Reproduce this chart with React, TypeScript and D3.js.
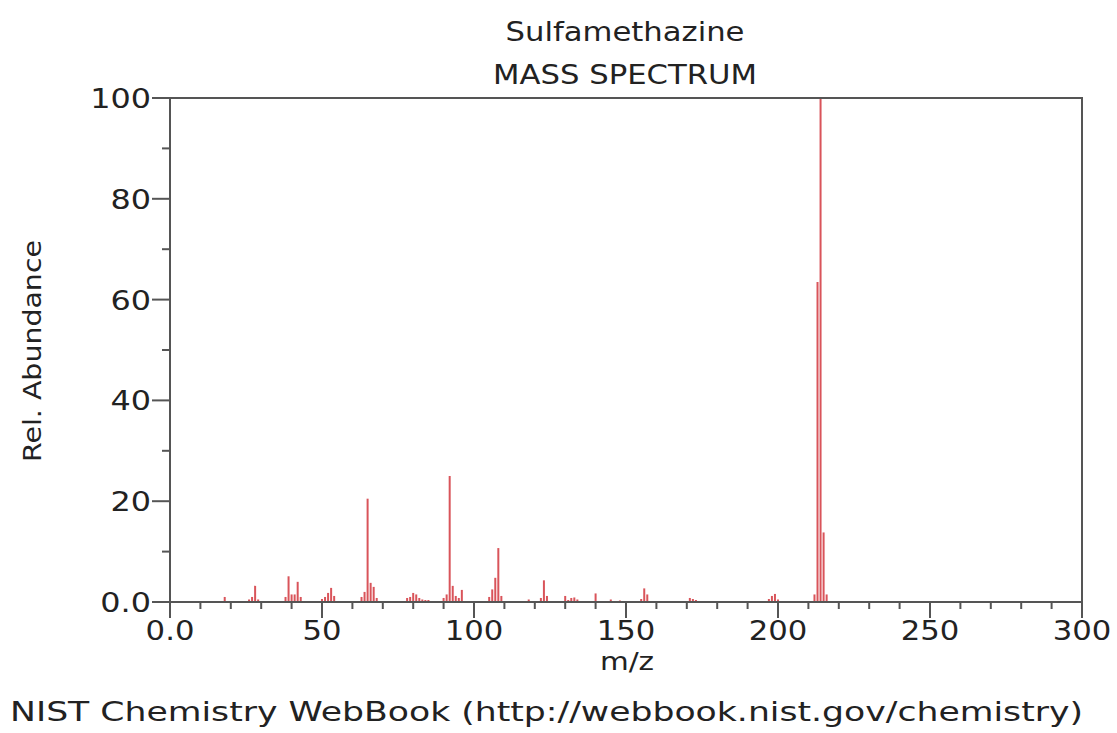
import { scaleLinear, range } from "d3";

// m/z and relative abundance
const mz = [
	18, 26, 27, 28, 29, 38, 39, 40, 41, 42, 43, 50, 51, 52, 53, 54, 63, 64, 65, 66, 67, 68,
	78, 79, 80, 81, 82, 83, 84, 85, 90, 91, 92, 93, 94, 95, 96, 105, 106, 107, 108, 109,
	118, 122, 123, 124, 130, 131, 132, 133, 134, 140, 145, 148, 155, 156, 157, 171, 172,
	173, 197, 198, 199, 200, 212, 213, 214, 215, 216,
];
const abundance = [
	1.0, 0.5, 1.0, 3.2, 0.5, 1.0, 5.1, 1.5, 1.5, 4.0, 1.0, 0.6, 1.0, 1.8, 2.8, 1.2, 1.0, 2.0,
	20.5, 3.8, 3.0, 0.8, 0.8, 1.0, 1.8, 1.5, 0.8, 0.5, 0.4, 0.4, 0.8, 1.5, 25.0, 3.2, 1.2,
	0.8, 2.4, 1.0, 2.5, 4.8, 10.7, 1.2, 0.5, 0.8, 4.3, 1.2, 1.2, 0.4, 0.8, 0.9, 0.5, 1.7,
	0.5, 0.3, 0.6, 2.7, 1.5, 0.8, 0.6, 0.4, 0.6, 1.2, 1.6, 0.5, 1.5, 63.5, 100, 13.8, 1.5,
];

const xTicks = [0, 50, 100, 150, 200, 250, 300];
const xTickLabels = ["0.0", "50", "100", "150", "200", "250", "300"];
const yTicks = [0, 20, 40, 60, 80, 100];
const yTickLabels = ["0.0", "20", "40", "60", "80", "100"];

const width = 1117;
const height = 733;
const font = "DejaVu Sans, Verdana, sans-serif";
const axisColor = "#555";
const peakColor = "#d9545a";
const stretch = 1.18; // the source picture is stretched sideways

const x = scaleLinear().domain([0, 300]).range([170, 1082]);
const y = scaleLinear().domain([0, 100]).range([602, 98]);

const App = () => {
	const x0 = x(0);
	const y0 = y(0);
	return (
		<svg
			width={width}
			height={height}
			style={{ position: "absolute", left: 0, top: 0, background: "#fff" }}
			fontFamily={font}
		>
			{/* title */}
			<text transform={`translate(625,41) scale(${stretch},1)`} textAnchor="middle" fontSize={26} fill="#222">
				Sulfamethazine
			</text>
			<text transform={`translate(625,84) scale(${stretch},1)`} textAnchor="middle" fontSize={26} fill="#222">
				MASS SPECTRUM
			</text>

			{/* peaks */}
			{mz.map((m, i) => (
				<line
					key={m}
					x1={x(m)}
					x2={x(m)}
					y1={y0}
					y2={y(abundance[i])}
					stroke={peakColor}
					strokeWidth={2}
				/>
			))}

			{/* frame */}
			<path
				d={`M${x0},${y0}V${y(100)}H${x(300)}V${y0}H${x0}`}
				fill="none"
				stroke={axisColor}
				strokeWidth={2}
			/>

			{/* x axis ticks */}
			{range(0, 301, 10).map((t) => (
				<line key={"xm" + t} x1={x(t)} x2={x(t)} y1={y0} y2={y0 + 7} stroke={axisColor} strokeWidth={2} />
			))}
			{xTicks.map((t, i) => (
				<g key={"x" + t}>
					<line x1={x(t)} x2={x(t)} y1={y0} y2={y0 + 16} stroke={axisColor} strokeWidth={2} />
					<text
						transform={`translate(${x(t)},${y0 + 38}) scale(${stretch},1)`}
						textAnchor="middle"
						fontSize={26}
						fill="#222"
					>
						{xTickLabels[i]}
					</text>
				</g>
			))}

			{/* y axis ticks */}
			{range(10, 100, 20).map((t) => (
				<line key={"ym" + t} x1={x0 - 8} x2={x0} y1={y(t)} y2={y(t)} stroke={axisColor} strokeWidth={2} />
			))}
			{yTicks.map((t, i) => (
				<g key={"y" + t}>
					<line x1={x0 - 18} x2={x0} y1={y(t)} y2={y(t)} stroke={axisColor} strokeWidth={2} />
					<text
						transform={`translate(${x0 - 19},${y(t) + 10}) scale(${stretch},1)`}
						textAnchor="end"
						fontSize={27}
						fill="#222"
					>
						{yTickLabels[i]}
					</text>
				</g>
			))}

			{/* axis labels */}
			<text transform={`translate(627,670) scale(${stretch},1)`} textAnchor="middle" fontSize={25} fill="#222">
				m/z
			</text>
			<text
				transform="translate(41,351) rotate(-90)"
				textAnchor="middle"
				fontSize={25}
				textLength={222}
				lengthAdjust="spacingAndGlyphs"
				fill="#222"
			>
				Rel. Abundance
			</text>

			{/* footer */}
			<text x={10} y={721} fontSize={26} textLength={1073} lengthAdjust="spacingAndGlyphs" fill="#222">
				NIST Chemistry WebBook (http://webbook.nist.gov/chemistry)
			</text>
		</svg>
	);
};

export default App;
